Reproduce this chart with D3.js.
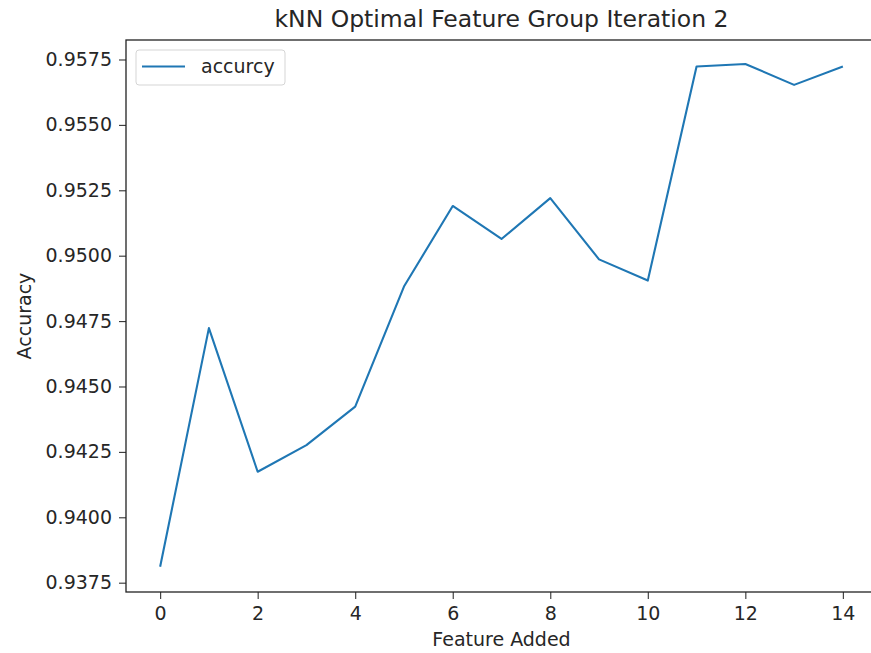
<!DOCTYPE html>
<html>
<head>
<meta charset="utf-8">
<script src="https://d3js.org/d3.v7.min.js"></script>
<style>
  body { margin: 0; background: #fff; }
  text { font-family: "DejaVu Sans", sans-serif; fill: #262626; }
  .tick text { font-size: 19px; }
  .domain { stroke: none; }
  .tick line { stroke: #333; stroke-width: 1.1; }
</style>
</head>
<body>
<div id="chart"></div>
<script>
// data
const features = [0, 1, 2, 3, 4, 5, 6, 7, 8, 9, 10, 11, 12, 13, 14];
const accuracy = [0.93811, 0.94723, 0.94174, 0.94276, 0.94423, 0.94882, 0.95190,
                  0.95064, 0.95220, 0.94986, 0.94905, 0.95723, 0.95733, 0.95653, 0.95723];
const xTicks = [0, 2, 4, 6, 8, 10, 12, 14];
const yTicks = [0.9375, 0.9400, 0.9425, 0.9450, 0.9475, 0.9500, 0.9525, 0.9550, 0.9575];

const W = 871, H = 653;
const plotLeft = 126, plotRight = 877, plotTop = 40, plotBottom = 592;

const svg = d3.select('#chart').append('svg')
    .attr('width', W).attr('height', H);

const x = d3.scaleLinear().domain([-0.7, 14.7]).range([plotLeft, plotRight]);
const y = d3.scaleLinear().domain([0.937144, 0.958245]).range([plotBottom, plotTop]);

// axes
svg.append('g')
    .attr('transform', `translate(0,${plotBottom})`)
    .call(d3.axisBottom(x).tickValues(xTicks).tickSize(7).tickPadding(8).tickFormat(d3.format('d')));

svg.append('g')
    .attr('transform', `translate(${plotLeft},0)`)
    .call(d3.axisLeft(y).tickValues(yTicks).tickSize(7).tickPadding(7).tickFormat(d3.format('.4f')));

// spines
svg.append('rect')
    .attr('x', plotLeft).attr('y', plotTop)
    .attr('width', plotRight - plotLeft).attr('height', plotBottom - plotTop)
    .attr('fill', 'none').attr('stroke', '#222').attr('stroke-width', 1.3);

// line
const line = d3.line().x((d, i) => x(features[i])).y(d => y(d));
svg.append('path')
    .datum(accuracy)
    .attr('d', line)
    .attr('fill', 'none')
    .attr('stroke', '#1f77b4')
    .attr('stroke-width', 2.1)
    .attr('stroke-linejoin', 'round');

// legend
const lg = svg.append('g');
lg.append('rect')
    .attr('x', 136).attr('y', 50).attr('width', 149).attr('height', 35).attr('rx', 3)
    .attr('fill', 'white').attr('fill-opacity', 0.8)
    .attr('stroke', '#d5d5d5');
lg.append('line')
    .attr('x1', 142).attr('x2', 185).attr('y1', 66.5).attr('y2', 66.5)
    .attr('stroke', '#1f77b4').attr('stroke-width', 2.1);
lg.append('text')
    .attr('x', 201).attr('y', 73)
    .style('font-size', '19px')
    .text('accurcy');

// titles
svg.append('text')
    .attr('x', (plotLeft + plotRight) / 2).attr('y', 27)
    .attr('text-anchor', 'middle')
    .style('font-size', '23.5px')
    .text('kNN Optimal Feature Group Iteration 2');

svg.append('text')
    .attr('x', (plotLeft + plotRight) / 2).attr('y', 646)
    .attr('text-anchor', 'middle')
    .style('font-size', '19px')
    .text('Feature Added');

svg.append('text')
    .attr('transform', `translate(31,316) rotate(-90)`)
    .attr('text-anchor', 'middle')
    .style('font-size', '19px')
    .text('Accuracy');
</script>
</body>
</html>
